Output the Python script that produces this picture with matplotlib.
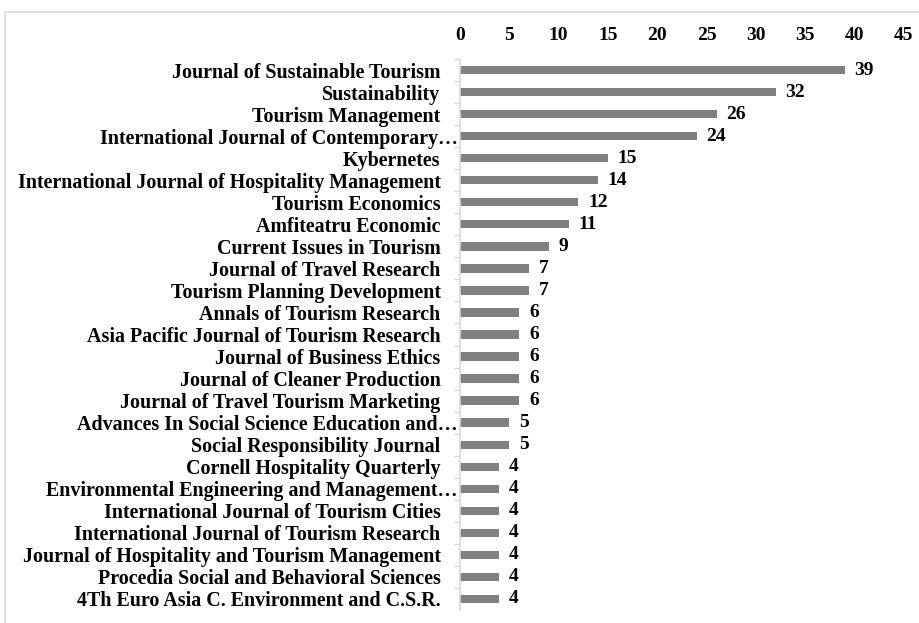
import matplotlib
matplotlib.use("Agg")
import matplotlib.pyplot as plt
from matplotlib.patches import Rectangle
from matplotlib.transforms import ScaledTranslation

journals = [
    "Journal of Sustainable Tourism",
    "Sustainability",
    "Tourism Management",
    "International Journal of Contemporary\u2026",
    "Kybernetes",
    "International Journal of Hospitality Management",
    "Tourism Economics",
    "Amfiteatru Economic",
    "Current Issues in Tourism",
    "Journal of Travel Research",
    "Tourism Planning Development",
    "Annals of Tourism Research",
    "Asia Pacific Journal of Tourism Research",
    "Journal of Business Ethics",
    "Journal of Cleaner Production",
    "Journal of Travel Tourism Marketing",
    "Advances In Social Science Education and\u2026",
    "Social Responsibility Journal",
    "Cornell Hospitality Quarterly",
    "Environmental Engineering and Management\u2026",
    "International Journal of Tourism Cities",
    "International Journal of Tourism Research",
    "Journal of Hospitality and Tourism Management",
    "Procedia Social and Behavioral Sciences",
    "4Th Euro Asia C. Environment and C.S.R.",
]
counts = [39, 32, 26, 24, 15, 14, 12, 11, 9, 7, 7, 6, 6, 6, 6, 6, 5, 5, 4, 4, 4, 4, 4, 4, 4]
xticks = [0, 5, 10, 15, 20, 25, 30, 35, 40, 45]

W, H = 920, 623
fig = plt.figure(figsize=(W / 100, H / 100), dpi=100)
fig.patch.set_facecolor("white")

# chart-area border (Excel style), running off the right and bottom edges
fig.patches.append(Rectangle((5 / W, -0.1), 1.2, 1.1 - 12 / H,
                             transform=fig.transFigure, fill=False,
                             edgecolor="#d9d9d9", linewidth=1.2))

ax = fig.add_axes([460 / W, 1 - 610 / H, 444 / W, 551 / H])
font = "Liberation Serif"

ypos = list(range(len(journals)))
ax.barh(ypos, counts, height=0.38, color="#808080")
ax.set_ylim(len(journals) - 0.5, -0.5)
ax.set_xlim(0, 45)

ax.xaxis.tick_top()
ax.set_xticks(xticks)
ax.set_xticklabels([str(t) for t in xticks], fontfamily=font,
                   fontweight="bold", fontsize=14)
ax.tick_params(axis="x", length=0, pad=11)

ax.set_yticks(ypos)
ax.set_yticklabels(journals, fontfamily=font, fontweight="bold", fontsize=14.4)
ax.tick_params(axis="y", length=0, pad=14)
ax.set_yticks([y + 0.5 for y in ypos[:-1]] + [-0.5], minor=True)
ax.tick_params(axis="y", which="minor", length=4, color="#d9d9d9", width=1)

for lbl in ax.get_yticklabels():
    if lbl.get_text().endswith("\u2026"):
        lbl.set_transform(lbl.get_transform() +
                          ScaledTranslation(17 / 100, 0, fig.dpi_scale_trans))

for s in ["top", "right", "bottom"]:
    ax.spines[s].set_visible(False)
ax.spines["left"].set_color("#d9d9d9")
ax.spines["left"].set_linewidth(1.2)

for y, v in zip(ypos, counts):
    ax.annotate(str(v), (v, y), xytext=(7, 0), textcoords="offset points",
                va="center", ha="left", fontfamily=font, fontweight="bold",
                fontsize=14)

fig.savefig("out.png", dpi=100, facecolor="white")
